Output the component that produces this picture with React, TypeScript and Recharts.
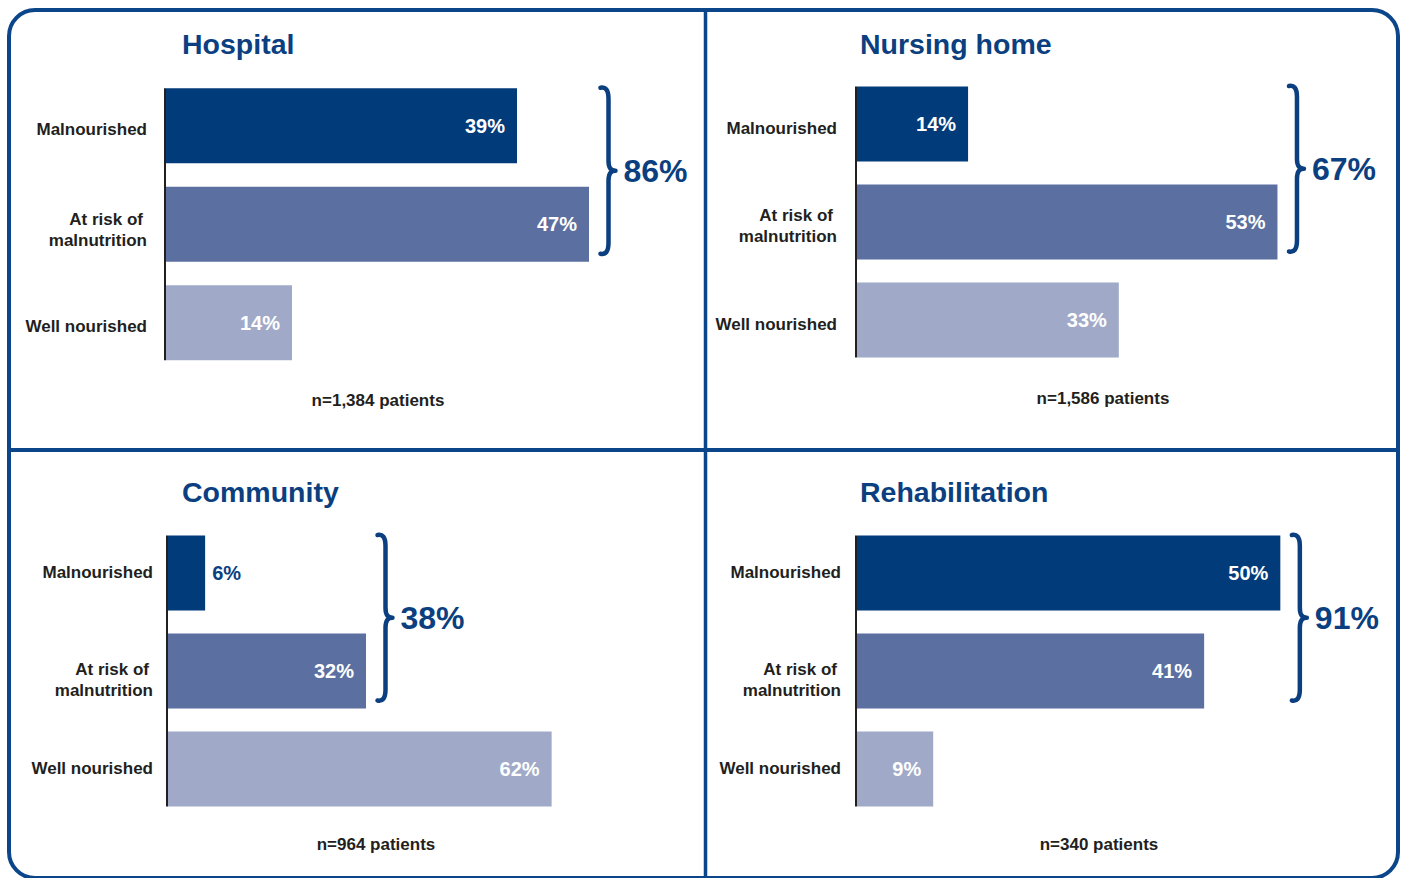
import React from 'react';
import { BarChart, Bar, XAxis, YAxis } from 'recharts';

// ---------- data ----------
const categories = ['Malnourished', 'At risk of\nmalnutrition', 'Well nourished'];
const hospitalValues = [39, 47, 14];
const nursingHomeValues = [14, 53, 33];
const communityValues = [6, 32, 62];
const rehabilitationValues = [50, 41, 9];
const panelTitles = ['Hospital', 'Nursing home', 'Community', 'Rehabilitation'];
const sampleLabels = ['n=1,384 patients', 'n=1,586 patients', 'n=964 patients', 'n=340 patients'];

// ---------- styles ----------
const FONT = '"Liberation Sans", Arial, Helvetica, sans-serif';
const barColors = ['#023b7a', '#5b6fa1', '#a0aac8'];
const NAVY = '#0b3f80';
const BORDER = '#0c468a';
const DARK = '#231f20';

type Panel = {
  values: number[];
  left: number;
  top: number;
  width: number;
  height: number;
  yWidth: number;
  marginTop: number;
  marginBottom: number;
  marginRight: number;
  domainMax: number;
  tickGap: number;
  singleDy: number;
  doubleDy: number;
  band: number;
  titleX: number;
  titleY: number;
  nX: number;
  nY: number;
};

const panels: Panel[] = [
  {
    values: hospitalValues, left: 0, top: 0, width: 706, height: 449,
    yWidth: 166, marginTop: 76.25, marginBottom: 77.25, marginRight: 0, domainMax: 60,
    tickGap: 19, singleDy: 3, doubleDy: 5, band: 98.5,
    titleX: 182, titleY: 54, nX: 378, nY: 405.5,
  },
  {
    values: nursingHomeValues, left: 706, top: 0, width: 698, height: 449,
    yWidth: 151, marginTop: 74.5, marginBottom: 80.5, marginRight: 71, domainMax: 60,
    tickGap: 20, singleDy: 4, doubleDy: 4, band: 98,
    titleX: 860, titleY: 54, nX: 1103, nY: 403.5,
  },
  {
    values: communityValues, left: 0, top: 449, width: 706, height: 429,
    yWidth: 168, marginTop: 74.5, marginBottom: 60.5, marginRight: 43, domainMax: 80,
    tickGap: 15, singleDy: -0.5, doubleDy: 9, band: 98,
    titleX: 182, titleY: 502, nX: 376, nY: 850,
  },
  {
    values: rehabilitationValues, left: 706, top: 449, width: 698, height: 429,
    yWidth: 151, marginTop: 74.5, marginBottom: 60.5, marginRight: 39, domainMax: 60,
    tickGap: 16, singleDy: -0.5, doubleDy: 9, band: 98,
    titleX: 860, titleY: 502, nX: 1099, nY: 850,
  },
];

function CategoryTick(props: any) {
  const { x, y, payload, singleDy, doubleDy } = props;
  const lines = String(payload.value).split('\n');
  if (lines.length === 1) {
    return (
      <text x={x} y={y + singleDy + 6} textAnchor="end" fontFamily={FONT} fontWeight={700} fontSize={17} fill={DARK}>
        {lines[0]}
      </text>
    );
  }
  const first = y + doubleDy - 10.5 + 6;
  return (
    <g>
      {lines.map((l, i) => (
        <text key={i} x={i === 0 ? x - 4 : x} y={first + i * 21} textAnchor="end" fontFamily={FONT} fontWeight={700} fontSize={17} fill={DARK}>
          {l}
        </text>
      ))}
    </g>
  );
}

function makeShape(panel: Panel) {
  const values = panel.values;
  return (props: any) => {
    const { x, y, width, height, index } = props;
    const band = panel.band;
    const els: React.ReactNode[] = [];
    els.push(<rect key="r" x={x} y={y} width={width} height={height} fill={barColors[index]} />);
    if (index === 0) {
      els.push(
        <line key="ax" x1={x - 1} x2={x - 1} y1={y} y2={y + 2 * band + height} stroke={DARK} strokeWidth={2} />
      );
    }
    const label = `${values[index]}%`;
    if (width > 55) {
      els.push(
        <text key="v" x={x + width - 12} y={y + height / 2 + 7.2} textAnchor="end" fontFamily={FONT} fontWeight={700} fontSize={20} fill="#ffffff">
          {label}
        </text>
      );
    } else {
      els.push(
        <text key="v" x={x + width + 7} y={y + height / 2 + 7.2} textAnchor="start" fontFamily={FONT} fontWeight={700} fontSize={20} fill={NAVY}>
          {label}
        </text>
      );
    }
    if (index === 1) {
      const ppu = width / values[1];
      const end0 = x + values[0] * ppu;
      const end1 = x + width;
      const xl = Math.max(end0, end1) + 11.5;
      const y0 = y - band - 1.5;
      const y1 = y + height - 7;
      const ym = (y0 + y1) / 2;
      const xs = xl + 8;
      const xt = xl + 15;
      const d = `M ${xl} ${y0 + 1} C ${xl + 5} ${y0} ${xs} ${y0 + 3} ${xs} ${y0 + 12} L ${xs} ${ym - 10} C ${xs} ${ym - 3} ${xs + 2} ${ym} ${xt} ${ym} C ${xs + 2} ${ym} ${xs} ${ym + 3} ${xs} ${ym + 10} L ${xs} ${y1 - 12} C ${xs} ${y1 - 3} ${xl + 5} ${y1} ${xl} ${y1 - 1}`;
      els.push(<path key="b" d={d} fill="none" stroke={NAVY} strokeWidth={4.5} strokeLinecap="round" strokeLinejoin="round" />);
      els.push(
        <text key="t" x={xt + 8} y={ym + 11.5} textAnchor="start" fontFamily={FONT} fontWeight={700} fontSize={32} fill={NAVY}>
          {`${values[0] + values[1]}%`}
        </text>
      );
    }
    return <g>{els}</g>;
  };
}

function PanelChart({ panel }: { panel: Panel }) {
  const data = categories.map((c, i) => ({ name: c, value: panel.values[i] }));
  return (
    <div style={{ position: 'absolute', left: panel.left, top: panel.top, width: panel.width, height: panel.height }}>
      <BarChart
        width={panel.width}
        height={panel.height}
        data={data}
        layout="vertical"
        margin={{ top: panel.marginTop, bottom: panel.marginBottom, left: 0, right: panel.marginRight }}
      >
        <XAxis type="number" domain={[0, panel.domainMax]} hide />
        <YAxis
          type="category"
          dataKey="name"
          width={panel.yWidth}
          axisLine={false}
          tickLine={false}
          tickSize={0}
          tickMargin={panel.tickGap}
          interval={0}
          tick={(p: any) => <CategoryTick {...p} singleDy={panel.singleDy} doubleDy={panel.doubleDy} />}
        />
        <Bar dataKey="value" barSize={75} isAnimationActive={false} shape={makeShape(panel)} />
      </BarChart>
    </div>
  );
}

export default function App() {
  return (
    <div style={{ position: 'absolute', left: 0, top: 0, width: 1404, height: 878, background: '#ffffff', overflow: 'hidden' }}>
      <svg width={1404} height={878} style={{ position: 'absolute', left: 0, top: 0 }}>
        <rect x={9} y={10} width={1389} height={868} rx={26} ry={26} fill="none" stroke={BORDER} strokeWidth={4} />
        <line x1={705.5} x2={705.5} y1={10} y2={878} stroke={BORDER} strokeWidth={3.5} />
        <line x1={9} x2={1398} y1={450} y2={450} stroke={BORDER} strokeWidth={4} />
        {panels.map((p, i) => (
          <g key={i}>
            <text x={p.titleX} y={p.titleY} fontFamily={FONT} fontWeight={700} fontSize={28.5} fill={NAVY}>
              {panelTitles[i]}
            </text>
            <text x={p.nX} y={p.nY} textAnchor="middle" fontFamily={FONT} fontWeight={700} fontSize={17} fill={DARK}>
              {sampleLabels[i]}
            </text>
          </g>
        ))}
      </svg>
      {panels.map((p, i) => (
        <PanelChart key={i} panel={p} />
      ))}
    </div>
  );
}
